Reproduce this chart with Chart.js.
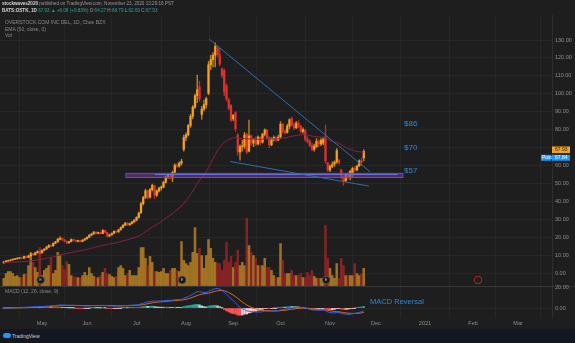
<!DOCTYPE html>
<html>
<head>
<meta charset="utf-8">
<script src="https://cdn.jsdelivr.net/npm/chart.js@4/dist/chart.umd.min.js"></script>
<style>
  html, body { margin: 0; padding: 0; background: #1e1e1e; }
  #wrap { position: relative; width: 575px; height: 343px; overflow: hidden; font-family: "Liberation Sans", Arial, sans-serif; }
  #chart { position: absolute; left: 0; top: 0; }
  .txt { position: absolute; white-space: nowrap; color: #9a9a9a; }
  .hdr { left: 2px; font-size: 4.6px; }
  .lg { left: 5px; font-size: 5px; color: #8a8a8a; }
  .w { color: #d8d8d8; font-weight: bold; }
  .g { color: #26a69a; }
  #footer { position: absolute; left: 0; top: 329px; width: 575px; height: 14px; background: #131722; }
  #footer span { position: absolute; left: 12px; top: 4px; font-size: 5px; color: #d1d4dc; }
  #footer i { position: absolute; left: 3px; top: 4px; width: 8px; height: 5px; border-radius: 3px; background: #2196f3; }
</style>
</head>
<body>
<div id="wrap">
  <canvas id="chart" width="575" height="343"></canvas>
  <div class="txt hdr" style="top:1px"><span class="w">stockwaves2020</span> published on TradingView.com, November 23, 2020 13:29:16 PST</div>
  <div class="txt hdr" style="top:8px"><span class="w">BATS:OSTK, 1D</span> <span class="g">67.93 ▲ +6.08 (+9.83%)</span> O:<span class="g">64.27</span> H:<span class="g">68.79</span> L:<span class="g">62.60</span> C:<span class="g">67.93</span></div>
  <div class="txt lg" style="top:19px">OVERSTOCK.COM INC DEL, 1D, Cboe BZX</div>
  <div class="txt lg" style="top:26px">EMA (50, close, 0)</div>
  <div class="txt lg" style="top:32px">Vol</div>
  <div class="txt lg" style="top:288px">MACD (12, 26, close, 9)</div>
  <div id="footer"><i></i><span>TradingView</span></div>
</div>
<script>
// daily bars, 7 Apr 2020 .. 23 Nov 2020 (index 0 .. 160)
const opens = [
  5.6, 6.2, 6.7, 7.0, 7.3, 7.7, 7.9, 8.2, 8.5, 8.3,
  9.2, 8.7, 9.6, 10.8, 10.2, 11.3, 12.1, 11.2, 12.7, 13.4,
  14.5, 15.4, 15.1, 16.6, 17.4, 18.9, 19.4, 18.5, 17.7, 16.9,
  17.5, 18.7, 18.2, 17.7, 18.1, 17.6, 18.4, 19.1, 19.9, 21.1,
  21.9, 22.8, 22.1, 22.6, 22.0, 23.8, 22.7, 20.6, 21.3, 22.1,
  23.3, 22.9, 24.1, 25.4, 26.7, 27.9, 26.9, 27.6, 28.5, 29.5,
  31.0, 33.6, 38.7, 42.1, 45.9, 42.3, 46.5, 48.8, 43.4, 45.8,
  47.4, 47.9, 50.6, 53.6, 54.7, 53.0, 56.2, 60.2, 59.6, 61.3,
  69.0, 75.6, 77.1, 82.2, 87.4, 92.5, 98.9, 104.0, 88.5, 91.5,
  94.0, 100.3, 116.2, 119.0, 121.6, 125.4, 121.8, 114.0, 113.0, 104.5,
  96.5, 93.5, 86.0, 89.5, 77.0, 67.5, 70.5, 70.8, 77.5, 68.0,
  76.5, 72.5, 74.5, 72.0, 75.8, 73.0, 77.5, 79.8, 75.5, 71.5,
  74.8, 75.6, 74.2, 76.0, 83.0, 79.0, 78.5, 82.0, 86.2, 82.6,
  81.0, 83.6, 82.0, 79.0, 79.5, 74.5, 73.4, 71.2, 69.0, 70.5,
  73.5, 72.0, 72.5, 76.0, 61.5, 57.5, 59.5, 60.8, 62.0, 63.0,
  57.5, 53.6, 51.5, 54.5, 53.2, 56.0, 58.4, 57.6, 59.8, 62.6,
  64.27
];
const highs = [
  6.4, 6.9, 7.2, 7.5, 7.9, 8.1, 8.4, 8.7, 8.7, 9.4,
  9.5, 9.8, 11.6, 11.0, 11.5, 12.4, 12.3, 12.9, 13.6, 14.8,
  15.8, 15.7, 16.9, 17.7, 19.2, 20.3, 19.6, 18.8, 18.0, 17.8,
  19.1, 19.0, 18.5, 18.4, 18.3, 18.6, 19.4, 20.2, 21.5, 22.2,
  23.2, 23.0, 22.9, 22.8, 24.2, 24.0, 22.9, 21.6, 22.4, 23.6,
  23.5, 24.4, 25.7, 27.0, 28.2, 28.1, 27.9, 28.8, 29.8, 31.4,
  34.0, 39.5, 42.8, 46.8, 46.2, 47.2, 49.6, 49.0, 46.4, 47.9,
  48.6, 51.2, 54.2, 55.3, 55.0, 56.8, 60.9, 61.0, 62.0, 63.5,
  77.0, 78.2, 83.0, 88.5, 93.4, 99.8, 110.5, 107.0, 93.0, 96.5,
  98.2, 118.0, 121.5, 123.0, 128.5, 126.8, 125.5, 114.5, 114.0, 105.5,
  97.5, 94.0, 88.5, 90.0, 78.0, 71.5, 74.0, 78.5, 78.0, 85.4,
  77.0, 75.0, 76.0, 76.5, 76.0, 78.0, 80.5, 80.0, 76.0, 75.5,
  76.5, 76.0, 77.0, 84.5, 83.5, 80.0, 83.0, 86.0, 87.0, 84.0,
  84.5, 85.0, 82.5, 81.0, 80.0, 76.0, 74.5, 72.5, 72.0, 75.0,
  74.5, 75.0, 75.5, 82.6, 61.8, 60.3, 62.1, 62.6, 69.5, 63.5,
  58.0, 54.0, 55.0, 56.0, 57.5, 59.0, 59.5, 60.2, 63.2, 64.2,
  68.79
];
const lows = [
  5.5, 6.0, 6.5, 6.8, 7.1, 7.4, 7.7, 8.0, 8.0, 8.2,
  8.4, 8.6, 9.4, 9.8, 10.0, 11.1, 10.5, 11.0, 12.4, 13.2,
  14.2, 14.6, 15.0, 16.3, 17.2, 18.5, 18.2, 17.4, 16.4, 16.5,
  17.3, 17.9, 17.4, 17.4, 17.3, 17.4, 18.2, 18.9, 19.7, 20.8,
  21.6, 21.8, 21.8, 21.7, 21.9, 22.4, 20.2, 20.3, 21.1, 21.9,
  22.6, 22.7, 23.9, 25.1, 26.4, 26.5, 26.6, 27.3, 28.2, 29.1,
  30.6, 33.2, 37.9, 41.5, 41.2, 41.8, 45.8, 41.5, 42.8, 45.1,
  46.2, 47.5, 50.1, 52.8, 52.5, 51.0, 55.8, 58.9, 59.0, 60.2,
  68.0, 73.8, 76.5, 81.3, 86.0, 91.8, 95.0, 95.8, 85.9, 90.5,
  92.0, 99.5, 113.5, 115.0, 115.0, 120.5, 115.5, 109.0, 99.0, 96.0,
  91.0, 84.4, 85.0, 78.9, 65.8, 63.0, 68.0, 69.5, 66.5, 67.5,
  71.0, 70.5, 71.0, 71.5, 71.5, 72.5, 76.5, 74.5, 70.0, 71.0,
  73.5, 73.5, 73.8, 75.0, 78.0, 77.5, 78.0, 80.5, 82.0, 80.0,
  80.5, 81.0, 78.0, 78.0, 73.5, 72.5, 70.5, 68.2, 68.0, 70.0,
  70.5, 71.0, 71.5, 61.2, 56.5, 56.6, 58.8, 59.5, 61.2, 60.8,
  52.5, 49.0, 51.0, 52.5, 52.0, 53.5, 56.8, 57.0, 59.3, 60.0,
  62.60
];
const closes = [
  6.2, 6.7, 7.0, 7.3, 7.7, 7.9, 8.2, 8.5, 8.2, 9.2,
  8.6, 9.6, 10.8, 10.1, 11.3, 12.1, 11.0, 12.7, 13.3, 14.5,
  15.4, 15.0, 16.6, 17.4, 18.9, 19.4, 18.5, 17.7, 16.8, 17.5,
  18.7, 18.2, 17.7, 18.1, 17.6, 18.4, 19.1, 19.9, 21.1, 21.9,
  22.8, 22.1, 22.6, 22.0, 23.8, 22.7, 20.6, 21.3, 22.1, 23.3,
  22.9, 24.1, 25.4, 26.7, 27.9, 26.9, 27.6, 28.5, 29.5, 31.0,
  33.4, 38.7, 42.1, 45.9, 42.3, 46.5, 48.8, 43.4, 45.8, 47.4,
  47.9, 50.6, 53.6, 54.7, 53.0, 56.2, 60.2, 59.6, 61.3, 62.4,
  75.6, 77.1, 82.2, 87.4, 92.5, 98.9, 102.3, 97.0, 91.5, 94.0,
  97.3, 116.2, 119.0, 121.6, 126.5, 121.8, 116.5, 110.3, 101.0, 97.0,
  92.0, 85.3, 87.9, 80.5, 67.5, 70.5, 70.8, 77.0, 67.5, 76.5,
  72.5, 74.5, 72.0, 75.8, 73.0, 77.5, 79.8, 75.5, 71.5, 74.8,
  75.6, 74.2, 75.8, 83.0, 79.0, 78.2, 82.0, 85.5, 82.6, 81.0,
  83.6, 82.0, 79.0, 80.0, 74.5, 73.4, 71.2, 69.0, 70.8, 73.5,
  72.0, 74.0, 74.5, 62.5, 57.5, 59.5, 60.5, 61.8, 68.3, 61.3,
  53.5, 51.2, 54.5, 53.4, 56.8, 58.4, 57.6, 59.6, 62.6, 61.85,
  67.93
];
// volume in millions
const volumes = [
  1.8, 3.0, 3.5, 3.5, 3.0, 2.3, 2.5, 2.0, 2.0, 2.8,
  3.0, 5.0, 7.5, 5.8, 4.5, 3.3, 9.5, 2.5, 3.8, 4.3,
  5.0, 6.8, 3.0, 3.8, 8.3, 7.5, 5.0, 4.0, 6.0, 5.3,
  2.5, 2.3, 2.0, 2.0, 1.8, 2.5, 3.3, 2.5, 4.5, 3.0,
  2.3, 2.0, 2.0, 2.5, 3.3, 4.3, 3.0, 2.8, 2.3, 2.0,
  2.3, 4.5, 5.0, 4.3, 2.5, 3.0, 3.8, 2.5, 2.5, 2.5,
  4.5, 9.5, 9.5, 6.8, 5.0, 7.3, 5.8, 3.5, 3.5, 3.3,
  3.5, 4.3, 3.0, 3.0, 3.8, 4.3, 4.3, 3.8, 3.5, 11.0,
  6.3, 5.5, 5.0, 5.8, 8.3, 14.5, 8.0, 9.3, 7.5, 4.3,
  7.5, 11.5, 9.3, 6.8, 5.8, 5.5, 5.5, 3.8, 6.3, 10.8,
  5.8, 7.3, 4.5, 5.8, 8.8, 5.0, 5.8, 5.0, 16.8, 10.0,
  8.3, 7.5, 6.8, 5.0, 5.0, 5.0, 6.8, 4.5, 4.5, 3.8,
  2.5, 2.0, 2.0, 10.5, 6.3, 3.0, 3.0, 3.0, 3.8, 2.5,
  2.5, 2.5, 3.0, 2.0, 2.0, 3.3, 2.5, 3.8, 2.3, 1.8,
  1.8, 1.8, 1.8, 15.0, 6.8, 4.3, 2.5, 1.8, 5.5, 1.8,
  6.8, 5.0, 2.5, 2.5, 2.5, 2.5, 5.5, 3.0, 2.5, 3.0,
  4.3
];

// time axis: bar index where each month starts (future months extend the axis)
const monthTickIdx = [17, 37, 59, 81, 102, 123, 145, 165.4, 187.2, 208.6, 228.6];
const monthLabels = ["May", "Jun", "Jul", "Aug", "Sep", "Oct", "Nov", "Dec", "2021", "Feb", "Mar"];
const priceTicks = [0, 10, 20, 30, 40, 50, 60, 70, 80, 90, 100, 110, 120, 130];
const macdTicks = [0, 20];
const earningsIdx = [16.4, 79.3, 143.3];
const nextEarningsIdx = 210.8;
const emaSeed = 5.8;
const lastPrice = 67.93;
const postPrice = 67.84;

const UP = "#f5a21e";
const DOWN = "#e0312e";
const VOL_UP = "rgba(201,140,36,0.75)";
const VOL_DOWN = "rgba(150,36,36,0.85)";
const GRID = "rgba(255,255,255,0.045)";
const TICK = "#8f8f8f";

function ema(values, len, seed) {
  const k = 2 / (len + 1);
  let prev = seed;
  return values.map(v => (prev = prev + k * (v - prev)));
}

const idx = closes.map((c, i) => i);
const ema50 = ema(closes, 50, emaSeed);
const ema12 = ema(closes, 12, closes[0]);
const ema26 = ema(closes, 26, closes[0]);
const macd = ema12.map((v, i) => v - ema26[i]);
const signal = ema(macd, 9, 0);
const hist = macd.map((v, i) => v - signal[i]);

const isUp = closes.map((c, i) => c >= opens[i]);
const histColors = hist.map((h, i) => {
  const p = i > 0 ? hist[i - 1] : 0;
  if (h >= 0) return h > p ? "#26a69a" : "#b2dfdb";
  return h < p ? "#ff5252" : "#ffcdd2";
});

const overlay = {
  id: "overlay",
  beforeDraw(chart) {
    const c = chart.ctx;
    c.save();
    c.fillStyle = "#1e1e1e";
    c.fillRect(0, 0, chart.width, chart.height);
    c.restore();
  },
  afterDatasetsDraw(chart) {
    const c = chart.ctx;
    const x = chart.scales.x, y = chart.scales.y, m = chart.scales.yMacd;
    const a = chart.chartArea;
    c.save();
    c.beginPath();
    c.rect(a.left, y.top, a.right - a.left, y.bottom - y.top);
    c.clip();

    // support zone
    const bx0 = x.getPixelForValue(54.3), bx1 = x.getPixelForValue(177.4);
    const by0 = y.getPixelForValue(55.6), by1 = y.getPixelForValue(53.3);
    c.fillStyle = "rgba(118,56,170,0.55)";
    c.fillRect(bx0, by0, bx1 - bx0, by1 - by0);
    c.strokeStyle = "#7b46b4";
    c.lineWidth = 1;
    c.strokeRect(bx0, by0, bx1 - bx0, by1 - by0);
    c.strokeStyle = "#6a74d8";
    c.beginPath();
    c.moveTo(x.getPixelForValue(67.2), y.getPixelForValue(55.0));
    c.lineTo(x.getPixelForValue(175), y.getPixelForValue(55.0));
    c.stroke();

    // trend lines
    c.strokeStyle = "#2f6eaa";
    c.lineWidth = 1;
    const seg = (i0, p0, i1, p1) => {
      c.beginPath();
      c.moveTo(x.getPixelForValue(i0), y.getPixelForValue(p0));
      c.lineTo(x.getPixelForValue(i1), y.getPixelForValue(p1));
      c.stroke();
    };
    seg(91.4, 130.4, 162.8, 56.5);
    seg(100.6, 62.2, 162.3, 48.5);

    // price level notes
    c.fillStyle = "#2a8ad8";
    c.font = "8px 'Liberation Sans', Arial, sans-serif";
    c.textBaseline = "middle";
    c.fillText("$86", x.getPixelForValue(177.9), y.getPixelForValue(83.2));
    c.fillText("$70", x.getPixelForValue(177.9), y.getPixelForValue(69.8));
    c.fillText("$57", x.getPixelForValue(177.9), y.getPixelForValue(56.9));

    // earnings markers
    const ey = y.bottom - 6;
    earningsIdx.forEach(i => {
      const ex = x.getPixelForValue(i);
      c.beginPath();
      c.arc(ex, ey, 3.8, 0, Math.PI * 2);
      c.fillStyle = "#161616";
      c.fill();
      c.strokeStyle = "#505050";
      c.stroke();
      c.fillStyle = "#bdbdbd";
      c.font = "4px 'Liberation Sans', Arial, sans-serif";
      c.textAlign = "center";
      c.fillText("E", ex, ey + 0.3);
    });
    c.beginPath();
    c.arc(x.getPixelForValue(nextEarningsIdx), ey, 3.8, 0, Math.PI * 2);
    c.strokeStyle = "#b3261e";
    c.stroke();
    c.restore();

    // MACD note
    c.save();
    c.fillStyle = "#2a8ad8";
    c.font = "7.5px 'Liberation Sans', Arial, sans-serif";
    c.textBaseline = "middle";
    c.fillText("MACD Reversal", x.getPixelForValue(162.8), m.getPixelForValue(5.7));

    // pane separator
    c.strokeStyle = "rgba(255,255,255,0.08)";
    c.beginPath();
    c.moveTo(a.left, y.bottom + 0.5);
    c.lineTo(chart.width, y.bottom + 0.5);
    c.stroke();

    // last price labels on the price scale
    c.font = "5px 'Liberation Sans', Arial, sans-serif";
    c.textAlign = "left";
    const ly = y.getPixelForValue(lastPrice) - 1.5;
    c.fillStyle = "#f5a21e";
    c.fillRect(a.right, ly - 3.3, 18, 6.6);
    c.fillStyle = "#1e1e1e";
    c.fillText(lastPrice.toFixed(2), a.right + 3, ly + 0.3);
    const py = ly + 8;
    c.fillStyle = "#2196f3";
    c.fillRect(a.right, py - 3, 18, 6);
    c.fillRect(a.right - 11, py - 3, 10, 6);
    c.fillStyle = "#ffffff";
    c.fillText(postPrice.toFixed(2), a.right + 3, py + 0.3);
    c.fillText("Post", a.right - 10, py + 0.3);
    c.restore();
  }
};

const tickFont = { family: "'Liberation Sans', Arial, sans-serif", size: 5.5 };

new Chart(document.getElementById("chart"), {
  type: "bar",
  data: {
    datasets: [
      {
        type: "line",
        label: "EMA 50",
        data: idx.map(i => ({ x: i, y: ema50[i] })),
        yAxisID: "y",
        borderColor: "#8a1f4c",
        borderWidth: 1,
        pointRadius: 0,
        tension: 0
      },
      {
        label: "body",
        data: idx.map(i => ({ x: i, y: [opens[i], closes[i]] })),
        yAxisID: "y",
        backgroundColor: isUp.map(u => (u ? UP : DOWN)),
        barThickness: 1.6,
        minBarLength: 0.6
      },
      {
        label: "wick",
        data: idx.map(i => ({ x: i, y: [lows[i], highs[i]] })),
        yAxisID: "y",
        backgroundColor: isUp.map(u => (u ? "rgba(245,162,30,0.8)" : "rgba(224,49,46,0.8)")),
        barThickness: 0.7
      },
      {
        type: "line",
        label: "MACD",
        data: idx.map(i => ({ x: i, y: macd[i] })),
        yAxisID: "yMacd",
        borderColor: "#2962ff",
        borderWidth: 1,
        pointRadius: 0
      },
      {
        type: "line",
        label: "Signal",
        data: idx.map(i => ({ x: i, y: signal[i] })),
        yAxisID: "yMacd",
        borderColor: "#e8661a",
        borderWidth: 1,
        pointRadius: 0
      },
      {
        label: "Histogram",
        data: idx.map(i => ({ x: i, y: hist[i] })),
        yAxisID: "yMacd",
        backgroundColor: histColors,
        barThickness: 1.8
      },
      {
        label: "Volume",
        data: idx.map(i => ({ x: i, y: volumes[i] })),
        yAxisID: "yVol",
        backgroundColor: isUp.map(u => (u ? VOL_UP : VOL_DOWN)),
        barThickness: 1.9
      }
    ]
  },
  options: {
    responsive: false,
    animation: false,
    layout: { padding: { top: 15, bottom: 14, left: 0, right: 0 } },
    plugins: { legend: { display: false }, tooltip: { enabled: false } },
    datasets: { bar: { grouped: false } },
    scales: {
      x: {
        type: "linear",
        min: -1.67,
        max: 243.67,
        offset: false,
        afterBuildTicks: s => { s.ticks = monthTickIdx.map(v => ({ value: v })); },
        afterFit: s => { s.height = 11; },
        ticks: {
          autoSkip: false,
          maxRotation: 0,
          padding: 2,
          color: TICK,
          font: tickFont,
          callback: (v, i) => monthLabels[i]
        },
        grid: { color: GRID, drawTicks: false },
        border: { display: false }
      },
      y: {
        position: "right",
        stack: "panes",
        stackWeight: 271,
        min: -7.25,
        max: 143.97,
        afterBuildTicks: s => { s.ticks = priceTicks.map(v => ({ value: v })); },
        afterFit: s => { s.width = 23; },
        ticks: {
          padding: 3,
          color: TICK,
          font: tickFont,
          callback: v => (v === 70 ? "" : v.toFixed(2))
        },
        grid: { color: GRID, drawTicks: false },
        border: { color: "rgba(255,255,255,0.08)" }
      },
      yMacd: {
        position: "right",
        stack: "panes",
        stackWeight: 32,
        min: -9.52,
        max: 20.95,
        afterBuildTicks: s => { s.ticks = macdTicks.map(v => ({ value: v })); },
        afterFit: s => { s.width = 23; },
        ticks: {
          padding: 3,
          color: TICK,
          font: tickFont,
          callback: v => v.toFixed(2)
        },
        grid: { color: GRID, drawTicks: false },
        border: { color: "rgba(255,255,255,0.08)" }
      },
      yVol: {
        display: false,
        min: -8.1,
        max: 67.6
      }
    }
  },
  plugins: [overlay]
});
</script>
</body>
</html>
